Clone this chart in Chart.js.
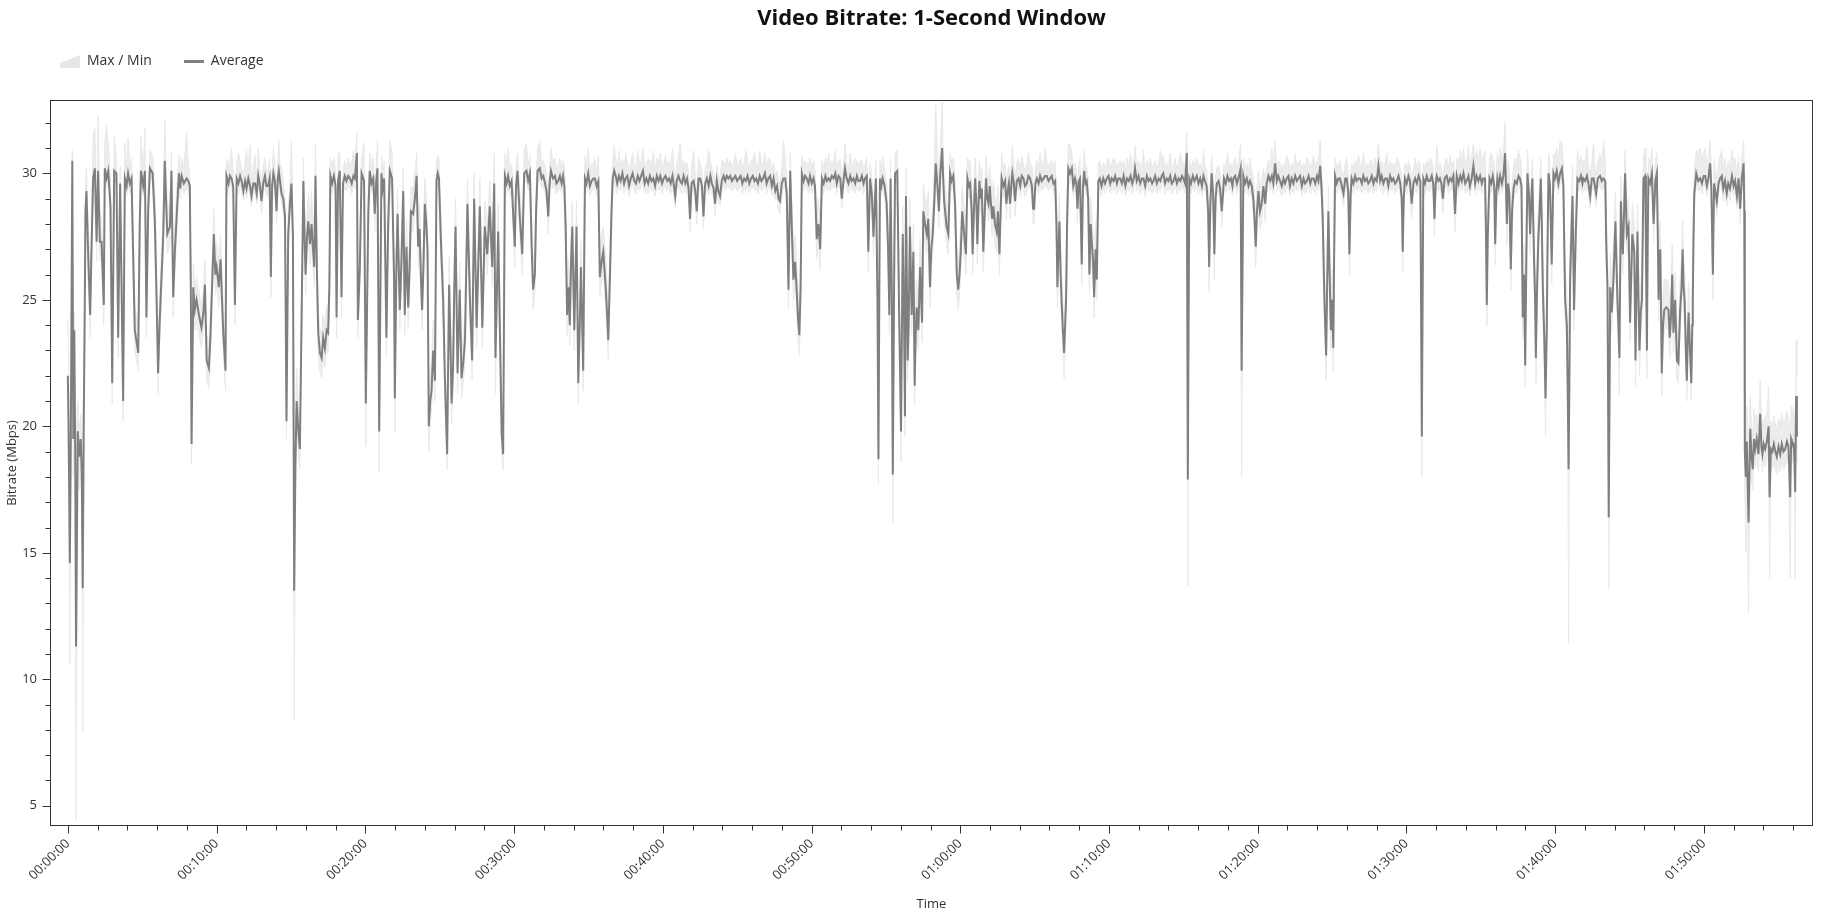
<!DOCTYPE html>
<html>
<head>
<meta charset="utf-8">
<title>Video Bitrate: 1-Second Window</title>
<script src="https://cdn.jsdelivr.net/npm/chart.js@4.4.1/dist/chart.umd.min.js"></script>
<style>
  html, body { margin: 0; padding: 0; background: #fff; }
  #wrap { position: relative; width: 1837px; height: 916px; }
</style>
</head>
<body>
<div id="wrap"><canvas id="bitrate"></canvas></div>
<script>
// sample time, seconds from start of the video
const timeSec = [
  // 00:00 - 00:17
  0,4,8,12,18,22,26,30,33,40,
  46,52,56,60,64,68,71,75,82,90,
  95,102,109,116,122,129,136,145,149,156,
  163,172,179,187,196,203,211,223,230,237,
  243,250,257,263,270,284,290,295,304,311,
  317,324,331,342,351,358,364,370,375,385,
  391,401,412,418,425,432,438,448,453,459,
  468,479,486,492,496,499,506,512,519,529,
  539,547,553,560,569,575,580,589,595,600,
  609,616,622,627,636,640,648,654,660,667,
  674,681,688,695,701,708,715,721,728,735,
  741,748,755,762,768,775,781,788,795,801,
  808,814,819,824,829,835,842,847,851,857,
  862,869,876,882,889,896,902,908,913,918,
  923,930,936,943,950,955,959,965,970,977,
  983,989,994,999,1005,1010,1017,1024,1030,1037,
  1044,1050,1055,1059,
  // 00:17 - 00:37
  1066,1073,1080,1084,1090,1097,1104,1110,1117,1124,
  1131,1138,1145,1152,1158,1166,1170,1178,1185,1195,
  1202,1212,1218,1225,1232,1238,1244,1249,1256,1265,
  1270,1276,1285,1292,1299,1308,1316,1319,1325,1330,
  1339,1346,1353,1359,1366,1373,1378,1384,1393,1400,
  1407,1413,1419,1424,1429,1435,1440,1446,1451,1456,
  1462,1467,1474,1481,1487,1492,1497,1505,1514,1521,
  1530,1538,1543,1548,1554,1559,1564,1572,1581,1588,
  1595,1602,1612,1622,1631,1639,1649,1656,1662,1672,
  1682,1692,1702,1712,1720,1725,1736,1743,1750,1756,
  1763,1770,1776,1783,1790,1797,1803,1808,1814,1823,
  1833,1841,1850,1857,1864,1871,1877,1884,1889,1895,
  1904,1911,1918,1925,1931,1938,1944,1949,1957,1965,
  1971,1978,1985,1992,1998,2003,2008,2014,2020,2025,
  2030,2035,2043,2052,2059,2065,2070,2079,2086,2092,
  2099,2106,2113,2120,2126,2133,2140,2146,2153,2160,
  2169,2175,2180,2187,2193,2198,2204,
  // 00:37 - 00:52
  2210,2216,2223,2230,2237,2244,2250,2257,2264,2271,
  2278,2285,2292,2299,2306,2313,2320,2327,2334,2341,
  2348,2355,2362,2369,2376,2383,2390,2397,2404,2411,
  2418,2425,2432,2439,2445,2450,2456,2463,2470,2477,
  2484,2491,2498,2504,2510,2516,2524,2531,2537,2544,
  2551,2558,2564,2571,2578,2585,2592,2598,2605,2611,
  2618,2624,2631,2638,2645,2652,2658,2665,2672,2679,
  2686,2693,2700,2707,2714,2721,2728,2735,2742,2749,
  2756,2763,2770,2777,2784,2791,2798,2805,2812,2819,
  2826,2833,2840,2847,2854,2861,2867,2873,2880,2887,
  2894,2900,2907,2914,2920,2927,2934,2941,2946,2951,
  2956,2961,2968,2974,2981,2988,2994,3001,3008,3014,
  3021,3028,3035,3042,3049,3056,3062,3069,3075,3082,
  3089,3096,3102,3109,3116,
  // 00:52 - 01:11
  3122,3129,3135,3142,3149,3156,3162,3169,3176,3183,
  3189,3196,3203,3210,3216,3223,3229,3236,3243,3250,
  3256,3260,3266,3270,3276,3282,3287,3295,3303,3309,
  3314,3319,3324,3328,3333,3337,3346,3353,3361,3368,
  3373,3377,3381,3388,3392,3397,3404,3411,3416,3420,
  3424,3431,3438,3446,3451,3458,3465,3471,3478,3483,
  3489,3495,3501,3508,3514,3519,3527,3531,3535,3545,
  3552,3559,3565,3572,3579,3586,3592,3597,3602,3608,
  3613,3623,3629,3635,3640,3646,3650,3655,3660,3665,
  3669,3673,3677,3683,3687,3693,3699,3704,3709,3714,
  3719,3723,3729,3734,3740,3747,3752,3758,3763,3767,
  3774,3781,3786,3790,3796,3801,3806,3810,3816,3821,
  3828,3835,3842,3848,3855,3861,3868,3875,3882,3889,
  3894,3898,3903,3909,3916,3922,3929,3936,3942,3949,
  3956,3962,3969,3976,3983,3988,3992,3996,4000,4005,
  4009,4014,4019,4023,4027,4031,4036,4043,4050,4056,
  4063,4068,4073,4078,4083,4090,4095,4100,4105,4110,
  4116,4121,4126,4131,4136,4140,4146,4151,4157,4163,
  4170,4177,4184,4191,4198,4205,4211,4218,4225,4232,
  4238,4245,
  // 01:11 - 01:38
  4252,4259,4266,4273,4280,4287,4294,4300,4305,4312,
  4319,4326,4333,4339,4346,4353,4360,4367,4374,4379,
  4386,4393,4400,4407,4413,4419,4426,4433,4440,4447,
  4453,4460,4467,4474,4481,4488,4494,4500,4507,4514,
  4518,4524,4531,4538,4545,4554,4561,4568,4575,4581,
  4587,4594,4600,4604,4609,4614,4620,4625,4630,4635,
  4642,4648,4655,4664,4671,4678,4685,4692,4698,4702,
  4709,4716,4722,4731,4735,4742,4749,4756,4763,4769,
  4776,4783,4788,4792,4797,4803,4809,4816,4823,4830,
  4836,4843,4850,4857,4863,4870,4877,4883,4890,4897,
  4904,4910,4917,4924,4930,4937,4944,4951,4958,4964,
  4971,4978,4985,4991,4998,5005,5012,5018,5025,5032,
  5039,5045,5052,5057,5062,5069,5076,5080,5085,5090,
  5095,5100,5105,5108,5112,5119,5126,5132,5139,5146,
  5153,5159,5165,5170,5175,5179,5186,5193,5199,5206,
  5213,5220,5226,5233,5240,5246,5253,5260,5267,5273,
  5280,5287,5294,5300,5307,5314,5321,5327,5334,5341,
  5347,5354,5361,5368,5375,5381,5385,5389,5394,5401,
  5408,5414,5421,5428,5435,5442,5449,5456,5462,5468,
  5475,5482,5488,5495,5502,5508,5513,5518,5522,5529,
  5535,5541,5547,5554,5562,5569,5576,5582,5589,5596,
  5603,5610,5617,5623,5630,5637,5643,5650,5656,5663,
  5670,5677,5683,5690,5697,5704,5710,5717,5721,5724,
  5728,5735,5742,5748,5754,5758,5763,5767,5772,5778,
  5785,5791,5798,5805,5810,5815,5821,5826,5832,5838,
  5845,5852,5858,
  // 01:38 - 01:40
  5864,5869,5874,5879,5884,5888,5894,5899,5904,5908,
  5915,5919,5922,5927,5932,5937,5942,5946,5950,5956,
  5961,5966,5969,5973,5979,5986,5990,5993,5999,6006,
  6013,6020,
  // 01:40 - end
  6027,6033,6040,6047,6051,6054,6057,6060,6065,6070,
  6076,6083,6090,6097,6104,6110,6114,6121,6128,6134,
  6141,6148,6155,6160,6165,6172,6181,6188,6195,6202,
  6206,6211,6216,6222,6228,6235,6243,6247,6251,6255,
  6259,6265,6269,6273,6278,6282,6289,6296,6302,6307,
  6311,6319,6324,6328,6332,6336,6340,6345,6350,6356,
  6363,6366,6370,6373,6376,6383,6390,6397,6404,6410,
  6414,6417,6421,6424,6430,6435,6440,6448,6457,6462,
  6467,6472,6477,6484,6491,6497,6504,6510,6514,6518,
  6522,6527,6531,6535,6538,6544,6549,6553,6555,6558,
  6561,6569,6577,6585,6592,6599,6605,6612,6618,6625,
  6630,6636,6641,6646,6652,6659,6665,6672,6678,6685,
  6692,6698,6705,6713,6720,6726,6733,6740,6746,6753,
  6760,6763,6765,6769,6773,6780,6787,6792,6797,6802,
  6807,6813,6820,6827,6832,6836,6841,6847,6854,6861,
  6865,6870,6876,6882,6888,6894,6901,6908,6914,6921,
  6928,6935,6941,6948,6952,6955,6962,6966,6968,6972,
  6975
];

// 1-second window average, Mbps
const avgMbps = [
  22.0,19.0,14.6,19.5,30.5,19.5,23.8,18.5,11.3,19.8,
  18.8,19.5,18.2,13.6,20.0,24.4,28.5,29.3,26.8,24.4,
  26.8,29.8,30.2,27.3,30.1,27.3,27.3,24.8,30.2,29.8,
  30.1,28.7,21.7,30.1,30.0,23.5,29.6,21.0,29.8,29.5,
  30.0,29.6,29.8,27.0,23.8,22.9,28.0,30.1,29.5,30.1,
  24.3,28.5,30.2,30.0,28.1,25.0,22.1,24.0,25.2,27.6,
  30.5,27.6,27.9,30.1,25.1,27.0,28.1,30.0,29.4,29.9,
  29.6,29.8,29.7,29.5,25.5,19.3,25.5,24.6,25.0,24.4,
  23.9,24.5,25.6,22.6,22.3,23.5,25.0,27.6,26.0,26.3,
  25.5,26.6,25.0,23.7,22.2,29.9,29.6,29.9,29.8,29.5,
  24.8,29.8,29.6,29.9,29.7,29.3,29.7,29.4,29.8,29.5,
  29.1,29.6,29.6,29.2,29.9,29.5,28.9,29.6,29.9,29.5,
  29.5,29.8,25.9,29.5,30.0,29.7,28.5,29.8,30.1,29.6,
  29.2,29.0,28.3,20.2,27.6,28.8,29.6,27.5,13.5,18.5,
  21.0,19.8,19.1,24.3,29.7,27.5,26.0,27.5,28.1,27.2,
  28.0,27.0,26.3,29.9,26.0,23.7,22.9,22.7,23.5,23.1,
  23.8,23.7,25.5,29.9,
  29.6,29.9,29.5,24.3,29.7,30.1,25.1,29.6,29.9,29.7,
  29.9,29.8,29.6,29.9,29.8,30.8,24.2,26.3,30.0,29.7,
  20.9,28.4,30.1,29.6,29.8,28.4,29.7,30.2,19.8,30.0,
  29.4,29.8,23.5,27.9,30.1,29.8,25.8,21.1,26.0,28.4,
  24.6,26.6,29.3,24.4,27.1,24.7,26.0,28.5,28.4,29.0,
  29.9,27.1,27.8,26.0,24.6,26.5,28.8,28.0,27.0,20.0,
  21.0,21.4,23.0,21.8,29.7,30.0,29.8,27.3,25.0,21.9,
  18.9,25.6,23.5,20.9,22.3,25.5,27.9,22.1,25.4,21.9,
  22.5,23.4,28.8,25.0,22.6,29.0,23.9,26.5,28.7,23.9,
  27.9,26.8,28.7,26.3,29.6,22.7,27.7,23.7,19.7,18.9,
  29.9,29.6,29.9,29.5,29.7,28.3,27.1,29.5,30.1,28.3,
  26.8,30.0,30.1,29.7,30.0,27.1,25.4,26.0,28.5,30.1,
  30.2,29.8,29.9,29.6,29.3,28.3,29.7,30.1,29.8,29.9,
  29.6,29.7,29.9,29.6,29.9,29.5,27.9,24.4,25.5,24.0,
  26.5,27.9,23.8,27.9,21.7,24.0,26.3,22.2,29.8,29.6,
  30.0,29.5,29.7,29.8,29.8,29.5,29.7,25.9,26.5,26.9,
  25.6,24.5,23.4,26.0,28.4,29.8,30.1,
  29.9,29.6,29.9,29.7,30.0,29.6,29.8,29.9,29.5,29.8,
  30.0,29.7,29.6,29.9,29.7,29.9,30.1,29.6,29.8,29.6,
  29.9,29.7,29.8,29.5,29.9,29.7,29.9,29.6,29.8,29.9,
  29.7,29.8,29.6,29.9,29.5,29.1,29.7,29.9,29.7,29.6,
  29.9,29.6,29.8,29.4,28.2,29.6,29.7,29.3,28.5,29.8,
  29.8,29.5,28.3,29.6,29.8,29.5,29.9,29.6,29.4,28.8,
  29.7,29.3,29.1,29.7,29.9,29.7,29.9,29.8,29.9,29.7,
  29.8,29.9,29.7,29.8,29.9,29.6,29.8,29.7,29.9,29.6,
  29.8,29.9,29.7,29.8,29.6,29.9,29.7,29.8,30.0,29.6,
  29.8,29.9,29.5,29.8,29.3,29.5,29.0,28.9,29.6,29.8,
  29.8,29.2,25.4,30.1,28.0,25.8,26.5,25.2,24.2,23.6,
  25.5,30.0,29.7,29.9,29.8,29.6,29.9,29.6,29.8,29.5,
  27.4,28.0,27.0,29.8,29.6,29.9,29.7,29.8,29.7,29.9,
  29.8,30.0,29.6,29.9,29.8,
  29.0,29.7,30.2,29.8,29.6,29.9,29.7,29.8,29.6,29.9,
  29.7,29.7,29.9,29.6,29.8,29.9,26.9,29.8,29.2,27.5,
  29.0,29.8,25.0,18.7,29.8,29.5,29.8,29.5,28.8,27.0,
  24.4,29.8,25.0,18.1,25.5,30.0,30.1,24.8,19.8,27.6,
  24.5,20.4,29.1,22.6,24.0,27.9,24.4,26.9,21.6,23.5,
  24.7,23.8,26.3,24.1,28.5,28.0,27.6,28.2,25.5,27.0,
  27.6,28.8,30.4,29.5,28.5,29.9,31.0,29.8,28.9,27.9,
  27.6,30.0,29.7,29.9,28.8,26.0,25.4,26.0,26.9,28.5,
  27.9,26.8,29.8,29.5,29.6,28.5,26.8,28.5,29.8,28.8,
  27.2,28.5,29.7,29.0,29.4,26.9,28.5,29.8,29.0,28.8,
  29.5,28.9,28.2,28.7,28.0,27.7,28.5,26.8,28.5,29.8,
  29.5,29.7,28.8,29.2,29.6,28.8,29.5,30.0,29.6,28.9,
  29.7,29.8,29.5,29.9,29.8,29.5,29.6,29.9,29.8,29.5,
  28.6,28.6,29.6,29.8,29.6,29.9,29.7,29.8,29.9,29.9,
  29.7,29.8,29.9,29.6,29.7,28.0,25.5,27.0,28.1,26.0,
  24.9,23.8,22.9,24.0,25.0,28.0,30.2,30.0,30.2,29.5,
  29.8,29.6,28.6,29.7,29.8,26.4,29.5,30.1,29.6,29.7,
  29.0,26.0,28.0,27.2,26.5,25.1,27.0,25.8,29.7,29.8,
  29.5,29.8,29.6,29.8,29.9,29.6,29.8,29.7,29.9,29.6,
  29.8,29.8,
  29.6,29.9,29.5,29.8,29.7,29.9,29.6,29.8,30.2,29.7,
  29.9,29.6,29.8,29.8,29.5,29.9,29.7,29.8,29.6,29.7,
  29.9,29.6,29.8,29.7,29.9,30.0,29.6,29.8,29.7,29.9,
  29.6,29.7,29.9,29.6,29.8,29.7,29.9,29.8,29.6,30.8,
  17.9,29.8,29.6,29.9,29.7,29.9,29.6,29.8,29.5,29.9,
  29.7,29.5,28.5,26.3,28.8,30.0,29.2,26.8,29.0,29.6,
  29.7,29.4,28.5,29.8,29.6,29.9,29.7,29.8,29.5,29.8,
  29.9,29.6,29.8,30.2,22.2,29.9,29.6,29.8,29.5,29.7,
  29.5,28.9,28.0,27.1,28.5,29.3,28.5,28.8,29.5,28.8,
  29.6,29.9,29.7,29.9,29.6,30.4,29.7,29.9,29.7,29.5,
  29.8,29.6,29.8,29.9,29.5,29.8,29.6,29.9,29.7,29.8,
  29.9,29.5,29.8,29.6,29.7,29.9,29.6,29.8,29.8,29.6,
  29.9,29.7,30.3,29.5,28.3,25.0,22.8,25.5,28.5,26.0,
  23.8,25.0,23.1,26.5,29.9,29.6,29.8,29.8,29.5,29.2,
  29.8,29.8,29.3,26.8,29.2,29.8,29.6,29.9,29.7,29.8,
  29.8,29.6,29.9,29.7,29.8,29.6,29.7,29.9,29.6,29.8,
  29.7,30.3,29.7,29.9,29.6,29.8,29.8,29.5,29.9,29.7,
  29.8,29.6,29.7,29.9,29.6,29.0,26.9,29.0,29.8,29.6,
  29.9,29.7,28.8,29.6,29.8,29.6,29.9,29.7,19.6,29.8,
  29.6,29.9,29.7,29.7,29.9,29.6,28.2,29.6,29.9,29.7,
  29.8,29.6,29.0,29.8,29.9,29.6,29.8,29.7,29.9,28.4,
  29.9,29.6,29.9,29.7,30.0,29.6,29.7,29.9,29.5,29.8,
  30.3,29.6,29.9,29.7,29.9,29.6,29.8,29.8,27.5,24.8,
  27.5,29.8,29.6,29.9,29.5,27.2,29.3,29.8,29.5,29.9,
  29.6,29.9,30.8,28.0,29.6,29.2,26.2,28.5,29.4,29.7,
  29.6,29.9,29.8,
  29.5,24.3,26.0,22.4,27.0,30.0,29.2,27.6,29.0,29.8,
  26.5,25.0,22.7,25.5,27.4,28.5,29.8,28.0,25.5,23.5,
  21.1,23.8,27.0,30.0,29.5,26.4,28.5,30.0,29.8,30.1,
  29.6,30.0,
  30.2,29.5,25.0,24.0,21.0,18.3,21.5,25.7,27.5,29.1,
  24.6,27.6,29.8,29.7,29.9,29.6,29.8,29.7,29.9,29.6,
  29.1,29.8,29.8,29.5,29.2,29.8,29.9,29.7,29.8,29.7,
  27.2,25.5,16.4,25.5,24.5,25.8,28.1,26.5,25.0,24.0,
  22.7,28.9,27.5,26.8,28.5,30.0,27.6,27.9,24.1,26.0,
  27.6,26.9,22.6,25.5,27.7,25.0,23.0,24.5,25.0,29.8,
  29.9,27.0,23.0,27.0,29.8,29.6,30.0,28.0,29.7,30.0,
  27.5,25.0,26.5,27.0,22.1,24.0,24.6,24.7,24.6,23.5,
  24.3,26.0,23.7,25.0,22.6,22.5,24.6,25.5,27.0,25.5,
  25.0,23.0,21.8,23.5,24.5,23.0,21.7,24.0,25.0,27.5,
  29.2,30.0,29.7,29.8,29.6,29.9,29.9,29.5,29.8,30.4,
  29.4,26.0,29.6,29.3,28.9,29.6,29.8,29.9,29.4,29.7,
  29.2,29.6,29.4,29.9,29.5,29.7,29.1,29.8,28.6,29.8,
  30.4,28.5,19.0,18.0,19.4,16.2,19.9,18.8,18.3,19.5,
  19.1,19.5,18.9,20.5,19.2,18.9,19.3,19.1,19.4,20.0,
  17.2,19.1,19.0,19.3,19.0,18.8,19.2,18.9,19.3,19.0,
  19.1,19.4,19.2,17.2,19.5,19.4,19.3,18.5,17.4,21.2,
  19.6
];

// highest 1-second value inside each window, Mbps
const maxMbps = [
  24.2,22.0,20.0,21.0,30.9,21.5,24.5,20.0,19.5,21.0,
  19.8,20.5,19.5,19.0,22.0,25.5,29.5,30.2,28.0,25.3,
  27.8,31.5,31.8,28.5,32.3,28.5,28.2,25.8,31.2,31.9,
  31.2,29.8,22.8,31.5,30.7,24.5,30.3,22.2,31.2,30.2,
  31.4,30.2,30.6,28.0,24.8,23.8,29.0,31.5,30.1,31.8,
  25.3,29.4,30.9,30.7,29.2,26.0,23.2,25.0,26.2,28.6,
  32.1,28.6,28.8,30.8,26.2,28.0,29.2,30.7,30.0,30.6,
  30.2,31.6,30.3,30.1,26.5,20.8,26.4,25.5,25.9,25.3,
  24.8,25.4,26.6,23.6,23.3,24.4,26.0,28.6,26.9,27.3,
  26.5,27.6,25.9,24.6,23.2,30.6,30.3,30.5,31.0,30.1,
  25.8,30.4,30.8,30.5,30.2,29.9,30.5,30.9,30.3,31.1,
  29.7,30.2,30.7,29.8,31.0,30.1,29.6,30.3,30.6,30.1,
  30.1,30.6,27.0,30.1,31.0,30.3,29.3,30.4,31.3,30.2,
  30.3,29.6,29.0,21.8,28.6,29.6,31.3,28.6,20.0,20.0,
  22.3,20.8,20.2,25.4,30.6,28.6,27.2,28.5,29.2,28.2,
  29.3,28.0,27.3,31.2,27.1,24.6,23.8,23.6,24.4,24.0,
  24.8,24.6,26.5,30.6,
  30.3,30.6,30.1,25.5,30.8,30.8,26.2,30.2,30.5,30.3,
  30.6,30.4,30.4,30.9,30.4,31.6,25.4,27.3,30.6,31.2,
  22.0,29.4,30.8,30.3,30.6,29.3,30.3,31.3,21.2,30.7,
  30.1,30.5,24.7,28.9,31.3,30.8,27.0,22.3,27.0,29.4,
  25.6,27.6,30.2,25.4,28.2,25.7,27.1,29.5,29.4,30.0,
  30.8,28.2,28.8,27.0,25.6,27.5,29.8,29.0,28.0,21.3,
  22.2,22.6,24.2,22.9,30.5,30.7,30.6,28.3,26.0,23.0,
  20.3,26.7,24.7,22.0,23.4,26.7,29.0,23.3,26.5,23.0,
  23.6,24.5,29.8,26.1,23.8,30.0,25.0,27.6,29.8,25.0,
  28.9,27.8,29.7,27.4,30.8,23.9,28.8,24.8,20.9,19.9,
  30.8,30.3,31.0,30.1,30.4,29.3,28.1,30.3,30.8,29.3,
  27.8,30.9,31.2,30.3,30.7,28.2,26.5,27.0,29.5,31.0,
  31.3,30.4,30.5,30.3,29.9,29.2,30.3,31.0,30.4,30.6,
  30.2,30.3,30.6,30.2,30.5,30.3,28.9,25.6,26.6,25.2,
  27.6,28.9,25.0,28.9,22.9,25.1,27.3,23.3,30.7,30.2,
  31.0,30.1,30.4,30.4,30.6,30.1,30.7,27.0,27.5,27.9,
  26.7,25.5,24.5,27.1,29.4,30.5,31.1,
  30.5,30.3,30.9,30.2,30.6,30.2,30.8,30.5,30.1,30.4,
  30.8,30.3,30.2,30.9,30.3,30.5,31.0,30.2,30.4,30.6,
  30.5,30.3,30.9,30.1,30.6,30.3,30.8,30.2,30.4,30.7,
  30.3,30.5,30.2,31.0,30.1,29.8,30.4,30.6,31.2,30.2,
  30.5,30.4,30.4,30.0,29.0,30.2,30.9,29.9,29.2,30.6,
  30.4,30.1,29.1,30.2,30.4,30.9,30.5,30.2,30.0,29.5,
  30.3,29.9,29.8,30.5,30.5,30.3,30.6,30.4,30.5,30.3,
  30.4,30.8,30.3,30.4,30.6,30.2,30.4,30.9,30.5,30.2,
  30.5,30.5,30.8,30.4,30.2,30.9,30.3,30.4,30.8,30.2,
  30.6,30.5,30.1,30.4,29.9,30.1,29.7,29.6,30.2,31.3,
  30.5,29.9,26.6,30.8,29.1,26.9,27.6,26.3,25.3,24.8,
  26.7,30.7,30.3,30.5,30.4,30.3,30.6,30.2,30.5,30.1,
  28.4,29.0,28.0,30.5,30.2,30.6,30.3,30.8,30.3,30.5,
  30.4,30.9,30.2,30.5,30.6,
  29.7,30.3,31.2,30.4,30.2,30.8,30.3,30.4,30.6,30.5,
  30.3,30.5,30.5,30.2,30.4,30.6,28.0,30.4,29.9,28.6,
  29.7,30.5,26.2,20.5,30.5,30.1,30.7,30.1,29.6,28.1,
  25.6,30.6,26.2,19.8,26.7,30.8,30.9,25.9,21.0,28.7,
  25.7,21.6,30.2,23.8,25.1,29.0,25.5,28.0,22.8,24.6,
  25.8,24.9,27.4,25.3,29.6,29.0,28.7,29.3,26.7,28.1,
  28.7,30.2,32.7,30.8,29.8,31.0,32.8,30.8,29.9,28.9,
  28.6,30.8,30.4,30.6,29.8,27.1,26.5,27.1,28.0,29.5,
  28.9,27.9,30.6,30.4,30.5,29.5,27.9,29.5,30.6,29.8,
  28.3,29.5,30.5,29.9,30.2,28.0,29.5,30.7,29.9,29.7,
  30.3,29.8,29.2,29.7,29.0,28.7,29.5,27.9,29.5,30.8,
  30.2,30.4,29.7,30.0,30.3,29.6,30.2,31.1,30.3,29.7,
  30.4,30.6,30.1,30.7,30.4,30.1,30.3,30.8,30.4,30.3,
  29.5,29.4,30.2,30.5,30.2,30.8,30.3,30.4,31.0,30.5,
  30.3,30.4,30.5,30.3,30.5,29.1,26.7,28.2,29.2,27.2,
  26.0,24.9,24.0,25.2,26.2,29.1,31.2,31.1,30.9,30.1,
  30.4,30.2,29.4,30.3,30.6,27.5,30.1,30.9,30.2,30.3,
  29.8,27.1,29.1,28.3,27.6,26.2,28.1,26.9,30.4,30.5,
  30.1,30.4,30.3,30.4,30.6,30.2,30.4,30.6,30.5,30.2,
  30.4,30.5,
  30.3,30.5,30.1,30.6,30.3,30.8,30.2,30.4,31.1,30.3,
  30.5,30.2,30.4,30.9,30.1,30.5,30.3,30.6,30.2,30.3,
  30.5,30.2,30.4,30.9,30.5,30.7,30.2,30.4,30.3,30.8,
  30.2,30.3,30.6,30.2,30.4,30.8,30.5,30.4,30.2,31.6,
  20.0,30.5,30.2,30.5,30.3,30.6,30.2,30.4,30.1,30.9,
  30.3,30.1,29.5,27.5,29.8,30.7,30.0,28.0,29.9,30.2,
  30.3,30.0,29.3,30.4,30.2,30.8,30.3,30.4,30.1,30.5,
  30.6,30.2,30.4,31.2,24.0,30.6,30.2,30.4,30.1,30.6,
  30.1,29.8,29.0,28.2,29.4,30.1,29.4,29.7,30.2,29.7,
  30.2,30.5,30.3,31.0,30.2,31.3,30.3,30.5,30.4,30.1,
  30.4,30.2,30.7,30.5,30.1,30.4,30.2,30.8,30.3,30.4,
  30.5,30.1,30.4,30.2,30.6,30.5,30.2,30.4,30.7,30.2,
  30.5,30.6,31.3,30.1,29.3,26.2,24.0,26.7,29.5,27.2,
  25.0,26.2,24.3,27.6,30.6,30.2,30.4,30.5,30.1,29.9,
  30.4,30.6,30.0,27.9,30.0,30.4,30.2,30.5,30.3,30.7,
  30.4,30.2,30.8,30.3,30.4,30.2,30.5,30.5,30.2,30.6,
  30.3,31.2,30.3,30.5,30.2,30.4,30.8,30.1,30.5,30.3,
  30.4,30.2,30.6,30.5,30.2,29.9,28.1,29.9,30.4,30.2,
  30.5,30.3,29.7,30.2,30.6,30.2,30.5,30.3,21.2,30.4,
  30.2,30.5,30.3,30.6,30.5,30.2,29.2,30.2,31.1,30.3,
  30.4,30.2,29.8,30.4,30.6,30.2,30.7,30.3,30.5,29.4,
  30.6,30.4,30.9,30.3,31.0,30.3,30.5,31.1,30.2,30.7,
  31.2,30.6,30.9,30.6,31.0,30.5,30.6,30.9,28.6,26.0,
  28.6,30.6,30.8,30.6,30.4,28.3,30.2,30.8,30.4,31.0,
  30.6,30.9,32.0,29.1,30.5,30.1,27.4,29.6,30.3,30.6,
  30.5,30.9,30.6,
  30.4,25.5,27.2,23.6,28.2,30.9,30.0,28.7,29.9,30.6,
  27.6,26.2,23.9,26.7,28.5,29.6,30.6,29.1,26.7,24.7,
  22.4,25.0,28.1,30.8,30.3,27.6,29.6,30.8,30.6,31.0,
  30.5,31.3,
  31.2,30.4,26.4,25.3,22.6,20.0,23.0,27.0,28.8,30.3,
  25.8,28.8,30.9,30.4,30.7,30.3,30.5,30.5,31.1,30.3,
  29.9,30.5,31.2,30.2,30.0,30.5,30.8,30.4,31.3,30.6,
  28.4,26.8,19.0,26.8,25.8,27.0,29.3,27.7,26.3,25.2,
  23.9,29.9,28.7,28.0,29.7,30.9,28.8,29.0,25.3,27.2,
  28.8,28.0,23.8,26.7,28.8,26.2,24.2,25.7,26.2,30.6,
  31.0,28.2,24.3,28.2,30.6,30.3,31.0,29.1,30.5,30.8,
  28.7,26.2,27.7,28.1,23.3,25.2,25.8,25.8,25.7,24.6,
  25.4,27.2,24.9,26.1,23.8,23.6,25.8,26.7,28.2,26.7,
  26.2,24.2,22.9,24.7,25.7,24.1,22.8,25.2,26.3,28.7,
  30.1,30.9,30.8,31.0,30.5,30.8,31.0,30.3,30.6,31.3,
  30.2,27.3,30.5,30.1,29.8,30.4,30.7,30.9,30.2,30.6,
  30.0,30.5,30.2,30.9,30.4,30.6,29.9,30.7,29.6,30.6,
  31.3,30.0,21.0,20.0,20.8,19.0,21.2,20.0,19.6,20.7,
  20.2,20.5,20.0,21.8,20.3,20.0,20.3,20.3,20.5,21.6,
  19.0,20.2,20.0,20.4,20.1,19.8,20.3,20.0,20.5,20.1,
  20.3,20.6,20.4,19.5,20.8,20.6,20.7,20.0,19.0,23.4,
  22.0
];

// lowest 1-second value inside each window, Mbps
const minMbps = [
  19.5,17.8,10.6,18.0,28.5,18.0,21.0,17.0,4.4,18.5,
  17.5,18.5,17.0,7.9,18.0,23.5,27.5,28.9,25.8,23.5,
  26.0,29.4,29.8,26.5,29.7,26.6,26.5,24.0,29.8,29.4,
  29.7,27.9,20.9,29.7,29.6,22.7,29.2,20.2,29.4,29.1,
  29.6,29.2,29.4,26.2,23.0,22.2,27.2,29.7,29.1,29.7,
  23.5,27.8,29.8,29.6,27.3,24.2,21.3,23.2,24.5,26.9,
  30.0,26.8,27.2,29.7,24.3,26.2,27.3,29.6,29.0,29.5,
  29.2,29.4,29.3,29.1,24.7,18.5,24.7,23.8,24.2,23.6,
  23.1,23.7,24.8,21.8,21.5,22.7,24.2,26.8,25.2,25.5,
  24.7,25.8,24.2,22.9,21.4,29.5,29.2,29.6,29.4,29.1,
  24.0,29.4,29.2,29.5,29.3,28.9,29.3,29.0,29.4,29.1,
  28.7,29.2,29.2,28.8,29.5,29.1,28.4,29.2,29.5,29.1,
  29.1,29.4,25.1,29.1,29.6,29.3,28.0,29.4,29.7,29.2,
  28.8,28.5,27.7,19.5,26.8,28.3,29.2,26.7,8.4,17.2,
  20.2,18.9,18.3,23.5,29.3,26.7,25.2,26.7,27.4,26.4,
  27.2,26.2,25.5,29.5,25.2,22.9,22.1,21.9,22.7,22.3,
  23.0,22.9,24.7,29.5,
  29.2,29.5,29.1,23.5,29.3,29.7,24.3,29.2,29.5,29.3,
  29.5,29.4,29.2,29.5,29.4,30.3,23.5,25.5,29.6,29.3,
  19.2,27.7,29.7,29.2,29.4,27.7,29.3,29.8,18.2,29.6,
  29.0,29.4,22.7,27.2,29.7,29.4,25.0,19.8,25.2,27.7,
  23.8,25.8,28.8,23.6,26.3,23.9,25.2,27.8,27.7,28.5,
  29.5,26.3,27.1,25.2,23.8,25.7,28.1,27.2,26.2,19.0,
  20.2,20.6,22.2,21.0,29.3,29.6,29.4,26.5,24.2,21.1,
  18.3,24.8,22.7,20.1,21.5,24.7,27.2,21.3,24.6,21.1,
  21.7,22.6,28.1,24.2,21.8,28.4,23.1,25.7,28.0,23.1,
  27.2,26.0,28.0,25.5,29.1,21.3,26.9,22.9,18.9,18.3,
  29.5,29.2,29.5,29.1,29.3,27.6,26.3,29.1,29.7,27.6,
  26.0,29.6,29.7,29.3,29.6,26.3,24.6,25.2,27.8,29.7,
  29.8,29.4,29.5,29.2,28.9,27.6,29.3,29.7,29.4,29.5,
  29.2,29.3,29.5,29.2,29.5,29.1,27.2,23.6,24.7,23.2,
  25.7,27.2,23.0,27.2,20.9,23.2,25.5,21.4,29.4,29.2,
  29.6,29.1,29.3,29.4,29.4,29.1,29.3,25.1,25.7,26.1,
  24.8,23.7,22.6,25.2,27.7,29.4,29.7,
  29.5,29.2,29.5,29.3,29.6,29.2,29.4,29.5,29.1,29.4,
  29.6,29.3,29.2,29.5,29.3,29.5,29.7,29.2,29.4,29.2,
  29.5,29.3,29.4,29.1,29.5,29.3,29.5,29.2,29.4,29.5,
  29.3,29.4,29.2,29.5,29.1,28.6,29.3,29.5,29.3,29.2,
  29.5,29.2,29.4,29.0,27.7,29.2,29.3,28.9,28.0,29.4,
  29.4,29.1,27.8,29.2,29.4,29.1,29.5,29.2,29.0,28.3,
  29.3,28.9,28.7,29.3,29.5,29.3,29.5,29.4,29.5,29.3,
  29.4,29.5,29.3,29.4,29.5,29.2,29.4,29.3,29.5,29.2,
  29.4,29.5,29.3,29.4,29.2,29.5,29.3,29.4,29.6,29.2,
  29.4,29.5,29.1,29.4,28.9,29.1,28.5,28.4,29.2,29.4,
  29.4,28.8,24.6,29.7,27.2,25.0,25.7,24.4,23.4,22.8,
  24.7,29.6,29.3,29.5,29.4,29.2,29.5,29.2,29.4,29.1,
  26.6,27.2,26.2,29.4,29.2,29.5,29.3,29.4,29.3,29.5,
  29.4,29.6,29.2,29.5,29.4,
  28.6,29.3,29.8,29.4,29.2,29.5,29.3,29.4,29.2,29.5,
  29.3,29.3,29.5,29.2,29.4,29.5,26.1,29.4,28.8,26.7,
  28.6,29.4,24.2,17.7,29.4,29.1,29.4,29.1,28.2,26.2,
  23.6,29.4,24.2,16.2,24.7,29.6,29.7,24.0,18.6,26.8,
  23.7,19.6,28.5,21.8,23.2,27.1,23.6,26.1,20.8,22.7,
  23.9,23.0,25.5,23.3,27.8,27.2,26.8,27.5,24.7,26.2,
  26.8,28.1,29.8,28.9,27.8,29.4,30.3,29.3,28.2,27.1,
  26.8,29.6,29.3,29.5,28.1,25.2,24.6,25.2,26.1,27.8,
  27.1,26.0,29.4,29.0,29.1,27.8,26.0,27.8,29.3,28.1,
  26.4,27.8,29.2,28.4,28.9,26.1,27.8,29.3,28.4,28.1,
  28.9,28.2,27.5,28.0,27.2,26.9,27.8,26.0,27.8,29.3,
  29.0,29.2,28.2,28.7,29.1,28.2,29.0,29.5,29.1,28.3,
  29.3,29.4,29.1,29.5,29.4,29.1,29.2,29.5,29.4,29.1,
  28.0,28.0,29.2,29.4,29.2,29.5,29.3,29.4,29.5,29.5,
  29.3,29.4,29.5,29.2,29.3,27.2,24.7,26.2,27.4,25.2,
  24.1,23.0,21.9,23.2,24.2,27.2,29.8,29.6,29.8,29.1,
  29.4,29.2,28.0,29.3,29.4,25.6,29.1,29.7,29.2,29.3,
  28.4,25.2,27.2,26.4,25.7,24.3,26.2,25.0,29.3,29.4,
  29.1,29.4,29.2,29.4,29.5,29.2,29.4,29.3,29.5,29.2,
  29.4,29.4,
  29.2,29.5,29.1,29.4,29.3,29.5,29.2,29.4,29.8,29.3,
  29.5,29.2,29.4,29.4,29.1,29.5,29.3,29.4,29.2,29.3,
  29.5,29.2,29.4,29.3,29.5,29.6,29.2,29.4,29.3,29.5,
  29.2,29.3,29.5,29.2,29.4,29.3,29.5,29.4,29.2,30.3,
  13.7,29.4,29.2,29.5,29.3,29.5,29.2,29.4,29.1,29.5,
  29.3,29.1,27.8,25.3,28.1,29.6,28.7,25.8,28.4,29.2,
  29.3,29.0,27.9,29.4,29.2,29.5,29.3,29.4,29.1,29.4,
  29.5,29.2,29.4,29.8,18.0,29.5,29.2,29.4,29.1,29.3,
  29.1,28.3,27.3,26.3,27.8,28.8,27.8,28.1,29.0,28.1,
  29.2,29.5,29.3,29.5,29.2,30.0,29.3,29.5,29.3,29.1,
  29.4,29.2,29.4,29.5,29.1,29.4,29.2,29.5,29.3,29.4,
  29.5,29.1,29.4,29.2,29.3,29.5,29.2,29.4,29.4,29.2,
  29.5,29.3,29.9,29.1,27.5,24.2,21.8,24.7,27.8,25.2,
  23.0,24.2,22.2,25.7,29.5,29.2,29.4,29.4,29.1,28.7,
  29.4,29.4,28.8,26.0,28.6,29.4,29.2,29.5,29.3,29.4,
  29.4,29.2,29.5,29.3,29.4,29.2,29.3,29.5,29.2,29.4,
  29.3,29.9,29.3,29.5,29.2,29.4,29.4,29.1,29.5,29.3,
  29.4,29.2,29.3,29.5,29.2,28.4,26.1,28.4,29.4,29.2,
  29.5,29.3,28.2,29.2,29.4,29.2,29.5,29.3,18.0,29.4,
  29.2,29.5,29.3,29.3,29.5,29.2,27.5,29.2,29.5,29.3,
  29.4,29.2,28.4,29.4,29.5,29.2,29.4,29.3,29.5,27.7,
  29.5,29.2,29.5,29.3,29.6,29.2,29.3,29.5,29.1,29.4,
  29.9,29.2,29.5,29.3,29.5,29.2,29.4,29.4,26.7,24.0,
  26.7,29.4,29.2,29.5,29.1,26.4,28.8,29.4,29.1,29.5,
  29.2,29.5,30.3,27.2,29.2,28.7,25.4,27.8,28.9,29.3,
  29.2,29.5,29.4,
  29.1,23.5,25.2,21.6,26.2,29.6,28.7,26.8,28.4,29.4,
  25.7,24.2,21.7,24.7,26.6,27.8,29.4,27.2,24.7,22.7,
  19.6,23.0,26.2,29.6,29.1,25.6,27.8,29.6,29.4,29.7,
  29.2,29.6,
  29.8,29.1,24.2,23.2,19.8,11.4,20.4,24.9,26.7,28.5,
  23.8,26.8,29.4,29.3,29.5,29.2,29.4,29.3,29.5,29.2,
  28.6,29.4,29.4,29.1,28.7,29.4,29.5,29.3,29.4,29.3,
  26.4,24.7,13.6,24.7,23.7,25.0,27.4,25.7,24.2,23.2,
  21.2,28.3,26.7,26.0,27.8,29.6,26.8,27.1,23.3,25.2,
  26.8,26.1,21.6,24.7,26.9,24.2,22.0,23.7,24.2,29.4,
  29.5,26.2,21.9,26.2,29.4,29.2,29.6,27.2,29.3,29.6,
  26.7,24.2,25.7,26.2,21.2,23.2,23.8,23.9,23.8,22.7,
  23.5,25.2,22.9,24.2,21.8,21.7,23.8,24.7,26.2,24.7,
  24.2,22.2,21.0,22.7,23.7,22.2,21.0,23.2,24.2,26.7,
  28.7,29.6,29.3,29.4,29.2,29.5,29.5,29.1,29.4,30.0,
  28.9,25.0,29.2,28.8,28.3,29.2,29.4,29.5,28.9,29.3,
  28.7,29.2,28.9,29.5,29.1,29.3,28.6,29.4,28.0,29.4,
  30.0,24.0,17.5,15.0,18.6,12.6,19.1,17.9,17.5,18.7,
  18.4,18.8,18.2,19.7,18.5,18.2,18.6,18.4,18.7,19.2,
  14.0,18.4,18.3,18.6,18.3,18.1,18.5,18.2,18.6,18.3,
  18.4,18.7,18.5,14.0,18.7,18.6,18.5,17.5,14.0,20.2,
  18.6
];

const X_MIN = -72;     // seconds
const X_MAX = 7040;
const Y_MIN = 4.2;     // Mbps
const Y_MAX = 32.9;
const xMinorStep = 120;
const xMajorStep = 600;
const yMajorStep = 5;

if (avgMbps.length != timeSec.length || maxMbps.length != timeSec.length || minMbps.length != timeSec.length) {
  console.log("length mismatch", timeSec.length, avgMbps.length, maxMbps.length, minMbps.length);
}

Chart.defaults.font.family = "'Open Sans', 'Noto Sans', sans-serif";
Chart.defaults.color = "#333";

function fmtTime(sec) {
  let h = Math.floor(sec / 3600);
  let m = Math.floor((sec % 3600) / 60);
  let s = sec % 60;
  return [h, m, s].map(v => String(v).padStart(2, "0")).join(":");
}

function points(values) {
  let n = Math.min(timeSec.length, values.length);
  let out = [];
  for (let i = 0; i < n; i++) {
    out.push({ x: timeSec[i], y: values[i] });
  }
  return out;
}

// little area-chart shape for the Max / Min legend entry
function bandIcon() {
  let c = document.createElement("canvas");
  c.width = 20;
  c.height = 14;
  let g = c.getContext("2d");
  g.fillStyle = "#e6e6e6";
  g.beginPath();
  g.moveTo(0, 14);
  g.lineTo(0, 9);
  g.lineTo(20, 1);
  g.lineTo(20, 14);
  g.closePath();
  g.fill();
  return c;
}

function lineIcon() {
  let c = document.createElement("canvas");
  c.width = 20;
  c.height = 3;
  let g = c.getContext("2d");
  g.fillStyle = "#808080";
  g.fillRect(0, 0, 20, 3);
  return c;
}

// box round the plot and tick marks (long ones where there is a label)
const frameTicks = {
  id: "frameTicks",
  afterDraw(chart) {
    const { ctx, chartArea: a } = chart;
    const x = chart.scales.x, y = chart.scales.y;
    ctx.save();
    ctx.strokeStyle = "#333";
    ctx.lineWidth = 1;
    let l = Math.round(a.left) + 0.5, t = Math.round(a.top) + 0.5;
    let r = Math.round(a.right) - 0.5, b = Math.round(a.bottom) - 0.5;
    ctx.strokeRect(l, t, r - l, b - t);
    ctx.beginPath();
    x.ticks.forEach(tk => {
      let px = Math.round(x.getPixelForValue(tk.value)) + 0.5;
      let len = tk.value % xMajorStep === 0 ? 8 : 5;
      ctx.moveTo(px, b);
      ctx.lineTo(px, b + len);
    });
    y.ticks.forEach(tk => {
      let py = Math.round(y.getPixelForValue(tk.value)) + 0.5;
      let len = tk.value % yMajorStep === 0 ? 8 : 5;
      ctx.moveTo(l, py);
      ctx.lineTo(l - len, py);
    });
    ctx.stroke();
    ctx.restore();
  }
};

// title sits over the plot, legend tucked under the title on the left
const placeHeader = {
  id: "placeHeader",
  afterLayout(chart) {
    const a = chart.chartArea;
    if (chart.titleBlock) {
      chart.titleBlock.top -= 12;
      chart.titleBlock.bottom -= 12;
      chart.titleBlock.left = a.left;
      chart.titleBlock.right = a.right;
    }
    if (chart.legend) {
      chart.legend.top -= 22;
      chart.legend.bottom -= 22;
      chart.legend.left += 28;
      chart.legend.right += 28;
    }
  }
};

const chart = new Chart(document.getElementById("bitrate"), {
  type: "line",
  data: {
    datasets: [
      {
        label: "Max / Min",
        data: points(maxMbps),
        borderColor: "#e8e8e8",
        borderWidth: 1,
        backgroundColor: "#ececec",
        fill: "+1",
        pointRadius: 0,
        pointStyle: bandIcon(),
        tension: 0,
        order: 1,
      },
      {
        label: "min",
        data: points(minMbps),
        borderColor: "#e8e8e8",
        borderWidth: 1,
        backgroundColor: "#ececec",
        fill: false,
        pointRadius: 0,
        tension: 0,
        order: 2,
      },
      {
        label: "Average",
        data: points(avgMbps),
        borderColor: "#7f7f7f",
        borderWidth: 2,
        backgroundColor: "#7f7f7f",
        fill: false,
        pointRadius: 0,
        pointStyle: lineIcon(),
        tension: 0,
        order: 0,
      },
    ],
  },
  options: {
    responsive: true,
    maintainAspectRatio: false,
    animation: false,
    events: [],
    layout: { padding: { top: 17.6, left: 0, right: 24, bottom: 0 } },
    plugins: {
      title: {
        display: true,
        text: "Video Bitrate: 1-Second Window",
        color: "#111",
        font: { size: 22, weight: "bold" },
        padding: { top: 0, bottom: 0 },
      },
      legend: {
        display: true,
        position: "top",
        align: "start",
        labels: {
          usePointStyle: true,
          pointStyleWidth: 20,
          padding: 32,
          color: "#333",
          font: { size: 14 },
          filter: item => item.datasetIndex !== 1,
          sort: (a, b) => a.datasetIndex - b.datasetIndex,
        },
      },
      tooltip: { enabled: false },
    },
    scales: {
      x: {
        type: "linear",
        min: X_MIN,
        max: X_MAX,
        grid: { display: false, drawTicks: false },
        border: { display: false },
        afterBuildTicks(scale) {
          let ticks = [];
          for (let t = 0; t <= X_MAX; t += xMinorStep) ticks.push({ value: t });
          scale.ticks = ticks;
        },
        afterFit(scale) {
          scale.height = 90;
        },
        ticks: {
          autoSkip: false,
          maxRotation: 45,
          minRotation: 45,
          padding: 10,
          color: "#333",
          font: { size: 13 },
          callback: v => (v % xMajorStep === 0 ? fmtTime(v) : ""),
        },
        title: {
          display: true,
          text: "Time",
          color: "#333",
          font: { size: 13 },
        },
      },
      y: {
        type: "linear",
        min: Y_MIN,
        max: Y_MAX,
        grid: { display: false, drawTicks: false },
        border: { display: false },
        afterBuildTicks(scale) {
          let ticks = [];
          for (let v = Math.ceil(Y_MIN); v <= Y_MAX; v++) ticks.push({ value: v });
          scale.ticks = ticks;
        },
        afterFit(scale) {
          scale.width = 50;
        },
        ticks: {
          padding: 13,
          color: "#333",
          font: { size: 13 },
          callback: v => (v % yMajorStep === 0 ? v : ""),
        },
        title: {
          display: true,
          text: "Bitrate (Mbps)",
          color: "#333",
          font: { size: 13 },
        },
      },
    },
  },
  plugins: [placeHeader, frameTicks],
});
</script>
</body>
</html>
